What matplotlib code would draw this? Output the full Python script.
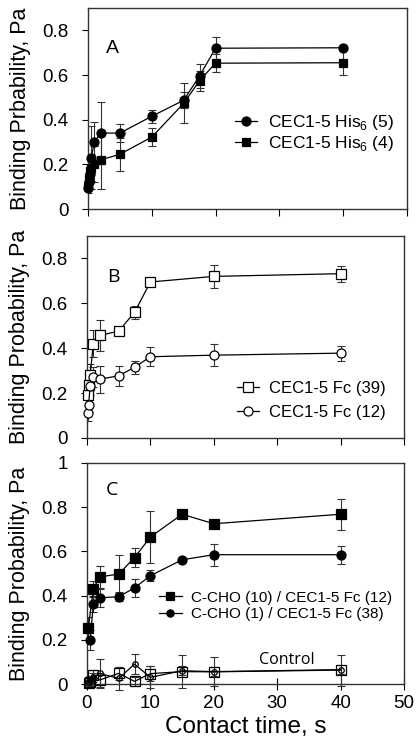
import matplotlib
matplotlib.use("Agg")
import matplotlib.pyplot as plt

# plot parameter setup
matplotlib.rcParams['font.family'] = ['Liberation Sans', 'DejaVu Sans']
matplotlib.rcParams['mathtext.fontset'] = 'custom'
matplotlib.rcParams['mathtext.rm'] = 'Liberation Sans'
matplotlib.rcParams['axes.linewidth'] = 1.0
matplotlib.rcParams['xtick.labelsize'] = 13.5
matplotlib.rcParams['ytick.labelsize'] = 13.5

# panel A : CEC1-5 His6
A_x = [0.05, 0.1, 0.25, 0.5, 1, 2, 5, 10, 15, 17.5, 20, 40]
A_his5 = [0.093, 0.12, 0.155, 0.23, 0.30, 0.34, 0.34, 0.415, 0.487, 0.596, 0.72, 0.722]
A_his5_err = [0.02, 0.03, 0.04, 0.14, 0.09, 0.14, 0.04, 0.028, 0.035, 0.055, 0.05, 0.01]
A_his4 = [0.105, 0.14, 0.17, 0.185, 0.20, 0.22, 0.245, 0.322, 0.473, 0.575, 0.653, 0.655]
A_his4_err = [0.02, 0.03, 0.04, 0.06, 0.08, 0.13, 0.075, 0.04, 0.09, 0.045, 0.04, 0.055]

# panel B : CEC1-5 Fc
B_x = [0.1, 0.25, 0.5, 1, 2, 5, 7.5, 10, 20, 40]
B_fc39 = [0.192, 0.237, 0.28, 0.42, 0.457, 0.476, 0.56, 0.695, 0.72, 0.732]
B_fc39_err = [0.02, 0.03, 0.05, 0.06, 0.07, 0.015, 0.028, 0.012, 0.05, 0.035]
B_fc12 = [0.11, 0.148, 0.23, 0.27, 0.262, 0.277, 0.315, 0.362, 0.369, 0.378]
B_fc12_err = [0.035, 0.03, 0.04, 0.045, 0.06, 0.045, 0.028, 0.042, 0.05, 0.033]

# panel C : C-CHO / CEC1-5 Fc and control
C_x_sq = [0.2, 1, 2, 5, 7.5, 10, 15, 20, 40]
C_cho10 = [0.252, 0.43, 0.485, 0.497, 0.572, 0.665, 0.768, 0.725, 0.768]
C_cho10_err = [0.05, 0.035, 0.05, 0.085, 0.043, 0.118, 0.01, 0.015, 0.07]
C_x_ci = [0.5, 1, 2, 5, 7.5, 10, 15, 20, 40]
C_cho1 = [0.2, 0.362, 0.39, 0.395, 0.435, 0.49, 0.562, 0.585, 0.585]
C_cho1_err = [0.045, 0.035, 0.04, 0.02, 0.04, 0.025, 0.01, 0.05, 0.04]
C_ctrl_x = [0.25, 0.5, 1, 2, 5, 7.5, 10, 15, 20, 40]
C_ctrl_sq = [0.005, 0.01, 0.042, 0.018, 0.048, 0.012, 0.047, 0.056, 0.055, 0.063]
C_ctrl_sq_err = [0.01, 0.02, 0.02, 0.03, 0.03, 0.02, 0.035, 0.075, 0.065, 0.07]
C_ctrl_ci = [0.01, 0.02, 0.03, 0.048, 0.025, 0.09, 0.03, 0.06, 0.056, 0.065]
C_ctrl_ci_err = [0.01, 0.015, 0.02, 0.065, 0.05, 0.045, 0.05, 0.02, 0.02, 0.02]

ERRC = '#333333'


def series(ax, x, y, err, marker, face, ms, label=None, clip=True):
	ax.errorbar(x, y, yerr=err, fmt='none', ecolor=ERRC, elinewidth=0.8,
				capsize=3, capthick=0.8, clip_on=clip, zorder=2)
	ax.plot(x, y, '-', color='black', lw=0.9, marker=marker, ms=ms,
			mfc=face, mec='black', mew=0.9, label=label, clip_on=False, zorder=3)


fig = plt.figure(figsize=(4.19, 7.43), dpi=100)
axA = fig.add_axes([0.210, 0.7187, 0.761, 0.2705])
axB = fig.add_axes([0.2076, 0.4105, 0.7566, 0.2719])
axC = fig.add_axes([0.2076, 0.0794, 0.7566, 0.2975])

# panel A
series(axA, A_x, A_his5, A_his5_err, 'o', 'black', 6.5, 'CEC1-5 His$_6$ (5)')
series(axA, A_x, A_his4, A_his4_err, 's', 'black', 6, 'CEC1-5 His$_6$ (4)')
axA.set_ylim(0, 0.9)
axA.set_yticks([0, 0.2, 0.4, 0.6, 0.8])
axA.set_yticklabels(['0', '0.2', '0.4', '0.6', '0.8'])
axA.set_ylabel('Binding Prbability, Pa', fontsize=15.5)
axA.text(0.078, 0.80, 'A', transform=axA.transAxes, fontsize=14,
		 ha='center', va='center')
axA.legend(loc='center left', bbox_to_anchor=(0.46, 0.378), frameon=False,
		   fontsize=12.5, handlelength=1.3, handletextpad=0.6,
		   labelspacing=0.15, borderpad=0, borderaxespad=0)

# panel B
series(axB, B_x, B_fc39, B_fc39_err, 's', 'white', 6.5, 'CEC1-5 Fc (39)')
series(axB, B_x, B_fc12, B_fc12_err, 'o', 'white', 6.5, 'CEC1-5 Fc (12)')
axB.set_ylim(0, 0.9)
axB.set_yticks([0, 0.2, 0.4, 0.6, 0.8])
axB.set_yticklabels(['0', '0.2', '0.4', '0.6', '0.8'])
axB.set_ylabel('Binding Probability, Pa', fontsize=15.5)
axB.text(0.082, 0.797, 'B', transform=axB.transAxes, fontsize=14,
		 ha='center', va='center', family=['Open Sans', 'DejaVu Sans'])
axB.legend(loc='center left', bbox_to_anchor=(0.473, 0.186), frameon=False,
		   fontsize=12, handlelength=1.3, handletextpad=0.6,
		   labelspacing=0.5, borderpad=0, borderaxespad=0)

# panel C
series(axC, C_x_sq, C_cho10, C_cho10_err, 's', 'black', 6.5, 'C-CHO (10) / CEC1-5 Fc (12)')
series(axC, C_x_ci, C_cho1, C_cho1_err, 'o', 'black', 6.5, 'C-CHO (1) / CEC1-5 Fc (38)')
series(axC, C_ctrl_x, C_ctrl_sq, C_ctrl_sq_err, 's', 'none', 7.5, clip=False)
series(axC, C_ctrl_x, C_ctrl_ci, C_ctrl_ci_err, 'o', 'none', 4, clip=False)
axC.set_ylim(0, 1)
axC.set_yticks([0, 0.2, 0.4, 0.6, 0.8, 1])
axC.set_yticklabels(['0', '0.2', '0.4', '0.6', '0.8', '1'])
axC.set_ylabel('Binding Probability, Pa', fontsize=15.5)
axC.set_xlabel('Contact time, s', fontsize=17.5, labelpad=3)
axC.text(0.079, 0.878, 'C', transform=axC.transAxes, fontsize=14,
		 ha='center', va='center', family=['Open Sans', 'DejaVu Sans'])
axC.text(0.63, 0.109, 'Control', transform=axC.transAxes, fontsize=11.5,
		 ha='center', va='center', family=['Open Sans', 'DejaVu Sans'])
leg = axC.legend(loc='center left', bbox_to_anchor=(0.227, 0.353), frameon=False,
				 fontsize=11, handlelength=1.5, handletextpad=0.6,
				 labelspacing=0.15, borderpad=0, borderaxespad=0, markerscale=0.8)

for ax in (axA, axB, axC):
	ax.set_xlim(0, 50)
	ax.set_xticks([0, 10, 20, 30, 40, 50])
	ax.tick_params(axis='y', direction='out', length=4, width=0.8, pad=10)
	ax.tick_params(axis='x', direction='out', length=5, width=0.8)
	ax.yaxis.set_label_coords(-0.18, 0.5)
	for s in ax.spines.values():
		s.set_color('#333333')
axA.set_xticklabels([])
axB.set_xticklabels([])
axC.tick_params(axis='x', direction='inout', length=9)

fig.savefig('out.png', dpi=100)
